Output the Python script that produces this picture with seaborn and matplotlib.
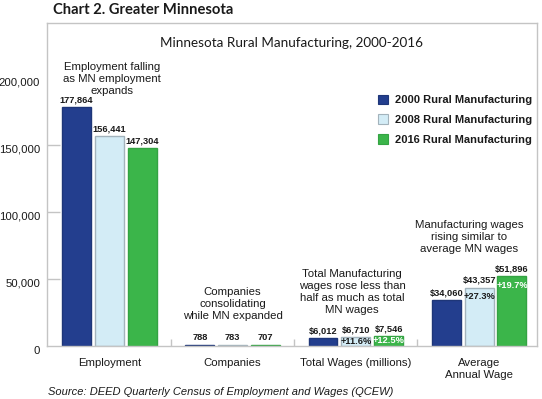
import numpy as np
import pandas as pd
import matplotlib
matplotlib.use("Agg")
import matplotlib.pyplot as plt
import matplotlib.transforms as mtransforms
import seaborn as sns

# ---------------- data ----------------
categories = ["Employment", "Companies", "Total Wages (millions)", "Average\nAnnual Wage"]
series = ["2000 Rural Manufacturing", "2008 Rural Manufacturing", "2016 Rural Manufacturing"]
values_2000 = [177864, 788, 6012, 34060]
values_2008 = [156441, 783, 6710, 43357]
values_2016 = [147304, 707, 7546, 51896]
labels_2000 = ["177,864", "788", "$6,012", "$34,060"]
labels_2008 = ["156,441", "783", "$6,710", "$43,357"]
labels_2016 = ["147,304", "707", "$7,546", "$51,896"]
pct_2008 = [None, None, "+11.6%", "+27.3%"]
pct_2016 = [None, None, "+12.5%", "+19.7%"]
y_ticks = [0, 50000, 100000, 150000, 200000]
y_tick_labels = ["0", "50,000", "100,000", "150,000", "200,000"]
notes = [
    "Employment falling\nas MN employment\nexpands",
    "Companies\nconsolidating\nwhile MN expanded",
    "Total Manufacturing\nwages rose less than\nhalf as much as total\nMN wages",
    "Manufacturing wages\nrising similar to\naverage MN wages",
]
chart_heading = "Chart 2. Greater Minnesota"
chart_title = "Minnesota Rural Manufacturing, 2000-2016"
source_text = "Source: DEED Quarterly Census of Employment and Wages (QCEW)"

df = pd.DataFrame({
    "category": categories * 3,
    "series": [series[0]] * 4 + [series[1]] * 4 + [series[2]] * 4,
    "value": values_2000 + values_2008 + values_2016,
})

# ---------------- style ----------------
sns.set_style("white")
plt.rcParams["font.family"] = ["Liberation Sans", "DejaVu Sans"]
TXT = "#1a1a1a"
GRID = "#c4c4c4"
fill_colors = ["#233E8E", "#D3ECF6", "#3BB54A"]
edge_colors = ["#1E3678", "#A3B3BC", "#34A343"]

fig = plt.figure(figsize=(5.42, 3.99), dpi=100)
W, H = 542.0, 399.0
ax = fig.add_axes([47 / W, 1 - 346 / H, 490 / W, (346 - 22.7) / H])

sns.barplot(data=df, x="category", y="value", hue="series", order=categories,
            hue_order=series, palette=fill_colors, saturation=1, width=0.8,
            gap=0.12, ax=ax, errorbar=None)

for cont, ec in zip(ax.containers, edge_colors):
    for bar in cont:
        bar.set_edgecolor(ec)
        bar.set_linewidth(1.0)

ax.set_xlim(-0.507, 3.47)
ax.set_ylim(0, 241000)
ax.set_xlabel("")
ax.set_ylabel("")

for sp in ax.spines.values():
    sp.set_visible(True)
    sp.set_color(GRID)
    sp.set_linewidth(1.0)

ax.set_yticks(y_ticks, y_tick_labels)
ax.tick_params(axis="y", which="major", direction="in", length=9.4, width=1,
               color=GRID, pad=5, labelsize=8.2, labelcolor=TXT, left=True)
ticks = ax.yaxis.get_major_ticks()
ticks[0].tick1line.set_visible(False)
ticks[-1].tick1line.set_visible(False)

ax.set_xticks(range(len(categories)), categories)
ax.set_xticks([0.5, 1.5, 2.5], minor=True)
ax.tick_params(axis="x", which="major", length=0, pad=8.5, labelsize=8.2, labelcolor=TXT)
ax.tick_params(axis="x", which="minor", direction="in", length=5, width=1,
               color=GRID, bottom=True)
for lbl in ax.get_xticklabels():
    lbl.set_linespacing(1.25)

# value labels
all_labels = [labels_2000, labels_2008, labels_2016]
for cont, labs in zip(ax.containers, all_labels):
    for bar, lab in zip(cont, labs):
        ax.annotate(lab, (bar.get_x() + bar.get_width() / 2, bar.get_height()),
                    xytext=(0, 5.3), textcoords="offset points", ha="center",
                    va="center", fontsize=6.7, fontweight="bold", color=TXT)

# percent labels inside bars
pct_offsets = [None, None, -3.6, -6.5]
for cont, pcts, col in [(ax.containers[1], pct_2008, TXT), (ax.containers[2], pct_2016, "white")]:
    for i, (bar, p) in enumerate(zip(cont, pcts)):
        if p is None:
            continue
        ax.annotate(p, (bar.get_x() + bar.get_width() / 2, bar.get_height()),
                    xytext=(0, pct_offsets[i]), textcoords="offset points",
                    ha="center", va="center", fontsize=6.7, fontweight="bold",
                    color=col)

# notes
note_x = [0.02, 1.0, 1.968, 2.92]
note_y = [198900, 31300, 40300, 81300]
for x, y, t in zip(note_x, note_y, notes):
    ax.text(x, y, t, ha="center", va="center", fontsize=8.2, color=TXT,
            linespacing=1.28)

# legend
handles, lbls = ax.get_legend_handles_labels()
for h, ec in zip(handles, edge_colors):
    h.set_edgecolor(ec)
    h.set_linewidth(0.8)
ax.legend(handles, lbls, loc="upper left", bbox_to_anchor=(378 / W, 1 - 94.5 / H),
          bbox_transform=fig.transFigure, frameon=False, borderpad=0,
          borderaxespad=0, handlelength=0.9, handleheight=0.9,
          handletextpad=0.6, labelspacing=0.85,
          prop={"family": "Liberation Sans", "weight": "bold", "size": 8})
for t in ax.get_legend().get_texts():
    t.set_color(TXT)

# titles
fig.text(53 / W, 1 - 9.5 / H, chart_heading, fontfamily="Lato", fontweight="bold",
         fontsize=10.6, va="center", ha="left", color=TXT)
ax.text(0.5, 0.937, chart_title, transform=ax.transAxes, ha="center", va="center",
        fontfamily="Lato", fontsize=9.7, color=TXT)
fig.text(48 / W, 1 - 392 / H, source_text, style="italic", fontsize=8,
         va="center", ha="left", color=TXT)

# shift y tick labels slightly down as in the reference
off = mtransforms.ScaledTranslation(0, -4 / 100, fig.dpi_scale_trans)
for lbl in ax.get_yticklabels():
    lbl.set_transform(lbl.get_transform() + off)

fig.savefig("out.png", dpi=100, facecolor="white")
